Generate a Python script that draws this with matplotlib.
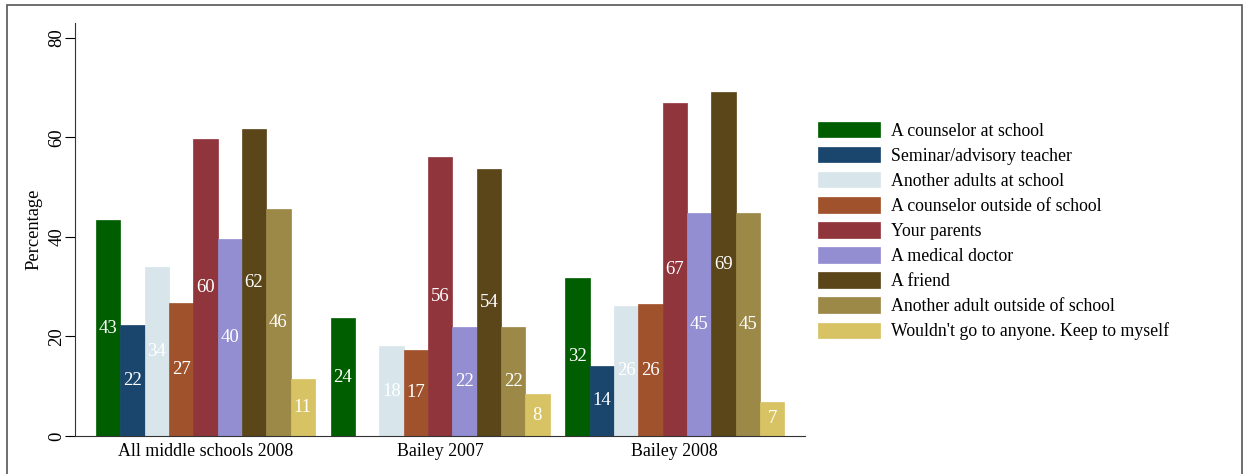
import numpy as np
import matplotlib
matplotlib.use('Agg')
import matplotlib.pyplot as plt
from matplotlib.patches import Rectangle

plt.rcParams['font.family'] = ['Liberation Serif', 'DejaVu Serif']

# data
groups = ['All middle schools 2008', 'Bailey 2007', 'Bailey 2008']
answers = ['A counselor at school', 'Seminar/advisory teacher', 'Another adults at school',
           'A counselor outside of school', 'Your parents', 'A medical doctor',
           'A friend', 'Another adult outside of school', "Wouldn't go to anyone. Keep to myself"]
colors = ['#005e00', '#1a466e', '#d8e6ec', '#a0522d', '#90353b',
          '#938dd2', '#5a4619', '#9c8847', '#d8c364']
values = [
    [43.4, 22.3, 34.0, 26.7, 59.6, 39.6, 61.6, 45.6, 11.4],   # All middle schools 2008
    [23.7, np.nan, 18.0, 17.3, 56.1, 22.0, 53.6, 22.0, 8.4],  # Bailey 2007 (no seminar bar)
    [31.8, 14.1, 26.2, 26.5, 66.9, 44.9, 69.1, 44.8, 6.9],    # Bailey 2008
]

fig = plt.figure(figsize=(12.44, 4.74), dpi=100)
ax = fig.add_axes([75/1244, 1-436/474, 730/1244, 413/474])

gstep = 9.65
for i, ans in enumerate(answers):
    xs = [g*gstep + i for g in range(len(groups))]
    hs = [values[g][i] for g in range(len(groups))]
    ax.bar(xs, hs, width=1, align='edge', color=colors[i], label=ans,
           edgecolor=colors[i], linewidth=0.5)
    for x, h in zip(xs, hs):
        if np.isnan(h):
            continue
        ax.text(x + 0.5, h/2, '%.0f' % h, ha='center', va='center',
                color='white', fontsize=13.5)

ax.set_xlim(-0.86, 2*gstep + 9 + 0.85)
ax.set_ylim(0, 83)
ax.set_xticks([g*gstep + 4.5 for g in range(len(groups))])
ax.set_xticklabels(groups, fontsize=12.9)
ax.tick_params(axis='x', length=0, pad=5)
ax.set_yticks([0, 20, 40, 60, 80])
ax.set_yticklabels(['0', '20', '40', '60', '80'], rotation=90, va='center', fontsize=13.5)
ax.tick_params(axis='y', length=7, width=0.8, pad=0)
ax.set_ylabel('Percentage', fontsize=13.3, labelpad=4)
for s in ['top', 'right']:
    ax.spines[s].set_visible(False)
for s in ['left', 'bottom']:
    ax.spines[s].set_linewidth(0.8)
    ax.spines[s].set_color('#333333')

ax.legend(loc='upper left', bbox_to_anchor=(1 + 13/730, 1 - (122-23)/413), frameon=False,
          fontsize=12.8, handlelength=3.5, handleheight=0.95, labelspacing=0.41,
          handletextpad=0.6, borderaxespad=0, borderpad=0.0)

# outer frame
fig.patches.append(Rectangle((7/1244, -0.1), (1242-7)/1244, 1.1 - 5/474,
                             transform=fig.transFigure, fill=False,
                             edgecolor='#555555', linewidth=1.2))

fig.savefig('out.png', dpi=100)
